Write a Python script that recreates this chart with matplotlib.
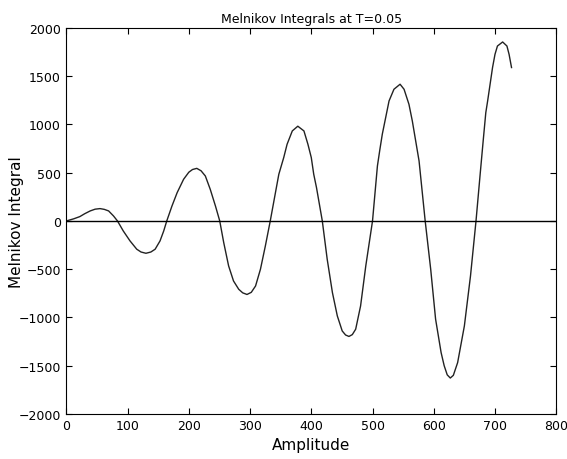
import matplotlib
matplotlib.use("Agg")
import matplotlib.pyplot as plt
import numpy as np

plt.rcParams['font.family'] = ['DejaVu Sans']

# points
amplitude = np.array([
    0, 12, 22, 30, 39, 47, 55, 62, 69, 77, 83.5,
    93, 104, 115, 122, 130, 138, 145, 153, 159, 164,
    172.5, 181, 191.5, 200, 206, 213, 220, 227, 235, 243.5, 250.5,
    257, 265, 273, 281.5, 288, 295, 302, 309, 317, 325, 333,
    343, 347, 355, 360.5, 369, 378, 388, 394.5, 400, 404, 408.5, 418,
    426, 434.5, 442.5, 450.5, 456, 461.5, 467, 472.5, 480.5, 489, 500,
    508, 512, 516, 521.5, 527, 535, 545, 551.5, 559.5, 565, 570.5, 576, 586,
    595, 603, 612, 617, 622, 627, 632, 639, 650, 660, 669,
    676, 681, 685, 688, 692, 696, 700, 704, 712.5, 719.5, 723, 727,
])
melnikov = np.array([
    0, 22, 45, 75, 104, 122, 128, 120, 104, 52, 0,
    -104, -207, -293, -322, -335, -322, -293, -207, -104, 0,
    155, 294, 432, 505, 533, 545, 520, 466, 328, 155, 0,
    -224, -466, -622, -708, -745, -762, -740, -674, -500, -259, 0,
    346, 484, 657, 795, 933, 982, 933, 795, 657, 484, 346, 0,
    -397, -742, -984, -1140, -1182, -1197, -1178, -1122, -881, -466, 0,
    570, 740, 900, 1072, 1244, 1365, 1417, 1365, 1209, 1036, 829, 622, 0,
    -500, -1018, -1364, -1500, -1595, -1628, -1600, -1468, -1088, -570, 0,
    500, 850, 1123, 1244, 1417, 1590, 1727, 1813, 1855, 1813, 1727, 1590,
])

fig = plt.figure(figsize=(5.67, 4.60), dpi=100)
ax = fig.add_axes([0.117, 0.098, 0.864, 0.839])

ax.plot(amplitude, melnikov, color='#222222', lw=1.0)
ax.axhline(0, color='black', lw=1.0)

ax.set_xlim(0, 800)
ax.set_ylim(-2000, 2000)
ax.set_xticks(np.arange(0, 801, 100))
ax.set_yticks(np.arange(-2000, 2001, 500))
ax.tick_params(direction='in', length=4, width=0.8, top=True, right=True,
               labelsize=9, pad=4)
for s in ax.spines.values():
    s.set_linewidth(0.8)

ax.set_title('Melnikov Integrals at T=0.05', fontsize=9, pad=4)
ax.set_xlabel('Amplitude', fontsize=11, labelpad=3)
ax.set_ylabel('Melnikov Integral', fontsize=11, labelpad=-4)

fig.savefig('out.png', dpi=100)
